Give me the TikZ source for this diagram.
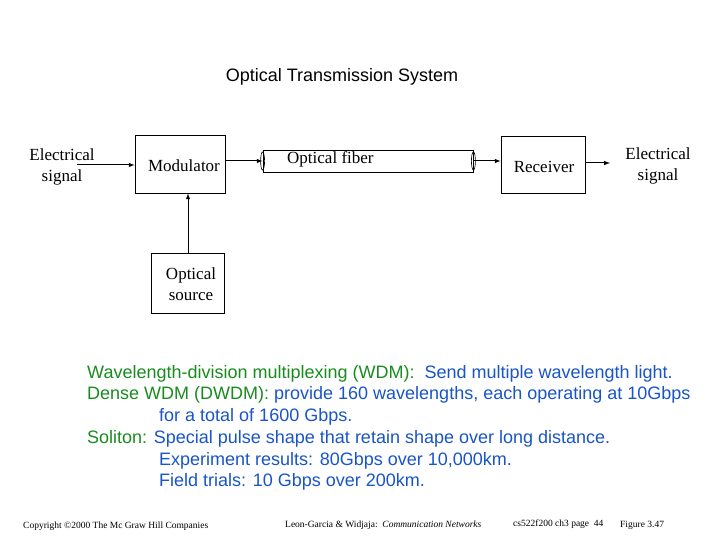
\documentclass[tikz,border=0pt]{standalone}
\usepackage{fontspec}
\setmainfont{Liberation Serif}
\newfontfamily\arialf{Liberation Sans}
\definecolor{tgreen}{RGB}{25,140,30}
\definecolor{tblue}{RGB}{25,85,200}
\begin{document}
\begin{tikzpicture}[x=1pt,y=-1pt,
  box/.style={draw,line width=0.8pt},
  lbl/.style={font=\fontsize{17}{21}\selectfont,align=center,inner sep=0},
  arr/.style={-latex,line width=1pt},
  body/.style={font=\arialf\fontsize{18}{21.7}\selectfont,anchor=north west,align=left,inner sep=0,text=tblue},
  foot/.style={font=\fontsize{9.5}{10}\selectfont,inner sep=0,anchor=west}]
\useasboundingbox[fill=white] (0,0) rectangle (720,540);
\node[font=\arialf\fontsize{18}{20}\selectfont] (title) at (342,77) {Optical Transmission System};
\node[lbl] (ein) at (62,167) {Electrical\\signal};
\node[box,minimum width=90,minimum height=58,inner sep=0] (mod) at (180,164) {};
\node[lbl] (modt) at (184,166) {Modulator};
\node[box,minimum width=73,minimum height=60,inner sep=0] (src) at (187.5,283) {};
\node[lbl] (srct) at (191,284) {Optical\\source};
\node[box,minimum width=210,minimum height=22,inner sep=0] (fib) at (368,161) {};
\node[lbl,anchor=west] (fibt) at (287,159) {Optical fiber};
\node[box,minimum width=84,minimum height=57,inner sep=0] (rec) at (543,164.5) {};
\node[lbl] (rect) at (544,167) {Receiver};
\node[lbl] (eout) at (658,166) {Electrical\\signal};
\draw[line width=0.6pt] (fib.west) ellipse (2 and 9);
\draw[line width=0.6pt] (fib.east) ellipse (2 and 9);
\coordinate (a1) at (77,165);
\draw[arr] (a1) -- (mod.west|-a1);
\draw[arr] (mod.east|-fib) -- (fib.west);
\draw[arr] (fib.east) -- (rec.west|-fib);
\coordinate (a4) at (610,163);
\draw[arr] (rec.east|-a4) -- (a4);
\draw[arr] (src.north-|188,0) -- (mod.south-|188,0);
\node[body] (t1) at (87,365) {\textcolor{tgreen}{Wavelength-division multiplexing (WDM):}\ \ Send multiple wavelength light.\\
\textcolor{tgreen}{Dense WDM (DWDM):} provide 160 wavelengths, each operating at 10Gbps\\
\hspace*{72pt}for a total of 1600 Gbps.\\
\textcolor{tgreen}{Soliton:} Special pulse shape that retain shape over long distance.\\
\hspace*{72pt}Experiment results: 80Gbps over 10,000km.\\
\hspace*{72pt}Field trials: 10 Gbps over 200km.};
\node[foot] (f1) at (23,526) {Copyright \textcopyright2000 The Mc Graw Hill Companies};
\node[foot] (f2) at (285,525) {Leon-Garcia \& Widjaja:\ \ \textit{Communication Networks}};
\node[foot] (f3) at (513,524) {cs522f200 ch3 page\ \ 44};
\node[foot] (f4) at (620,525) {Figure 3.47};
\end{tikzpicture}
\end{document}
